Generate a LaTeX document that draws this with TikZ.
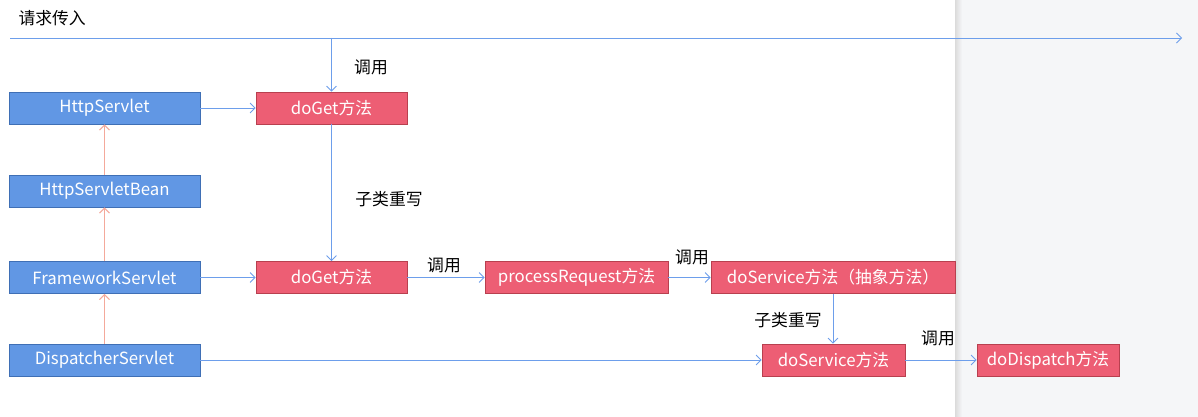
\documentclass[tikz,border=0pt]{standalone}
\usepackage{fontspec}
\setmainfont{Noto Sans CJK SC}
\usetikzlibrary{arrows.meta}
\definecolor{boxblue}{HTML}{6197E4}
\definecolor{boxblueline}{HTML}{3F6FB5}
\definecolor{boxred}{HTML}{ED5E74}
\definecolor{boxredline}{HTML}{B8404F}
\definecolor{flowblue}{HTML}{6D9EEB}
\definecolor{inherit}{HTML}{F4A99B}
\definecolor{pagegray}{HTML}{F5F6F8}

\begin{document}
\begin{tikzpicture}[x=1pt,y=-1pt,font=\fontsize{16.8}{20}\selectfont,
						classbox/.style={rectangle,draw=boxblueline,fill=boxblue,text=white,minimum width=191pt,minimum height=32pt,inner sep=0pt,line width=0.8pt},
						methodbox/.style={rectangle,draw=boxredline,fill=boxred,text=white,minimum height=32pt,inner sep=0pt,line width=0.8pt},
						flow/.style={draw=flowblue,line width=0.8pt,-{Straight Barb[length=5pt,width=10pt]}},
						extends/.style={draw=inherit,line width=1pt,-{Straight Barb[length=5pt,width=10pt]}},
						tag/.style={text=black}
						]
						\useasboundingbox (0,0) rectangle (1198,417);
						\fill[white] (0,0) rectangle (955,417);
						\fill[pagegray] (955,0) rectangle (1198,417);
						\shade[left color=black!14,right color=pagegray] (955,0) rectangle (962,417);
						% class hierarchy
						\node[classbox] (hs) at (104.5,108) {HttpServlet};
						\node[classbox] (hsb) at (104.5,191) {HttpServletBean};
						\node[classbox] (fs) at (104.5,277.5) {FrameworkServlet};
						\node[classbox] (ds) at (104.5,360) {DispatcherServlet};
						% methods
						\node[methodbox,minimum width=151pt] (get1) at (331.5,108) {doGet方法};
						\node[methodbox,minimum width=151pt] (get2) at (331.5,277.5) {doGet方法};
						\node[methodbox,minimum width=183pt] (proc) at (576.5,277.5) {processRequest方法};
						\node[methodbox,minimum width=244pt] (svcA) at (833,277.5) {doService方法（抽象方法）};
						\node[methodbox,minimum width=143pt] (svc) at (833.5,360) {doService方法};
						\node[methodbox,minimum width=142pt] (disp) at (1048,360) {doDispatch方法};
						% request line
						\node[tag,anchor=west] (req) at (15,18) {请求传入};
						\coordinate (in) at (10,38);
						\coordinate (out) at (1182,38);
						\draw[flow] (in) -- (out);
						\draw[flow] (get1.north |- in) -- (get1.north);
						\node[tag] (call1) at (371,67) {调用};
						\draw[flow] (get1) -- (get2);
						\node[tag] (sub1) at (389,199) {子类重写};
						\draw[flow] (hs) -- (get1);
						\draw[flow] (fs) -- (get2);
						\draw[flow] (ds) -- (svc);
						\draw[flow] (get2) -- (proc);
						\node[tag] (call2) at (444,265) {调用};
						\draw[flow] (proc) -- (svcA);
						\node[tag] (call3) at (692,257) {调用};
						\draw[flow] (svcA) -- (svcA.south |- svc.north);
						\node[tag] (sub2) at (788,320) {子类重写};
						\draw[flow] (svc) -- (disp);
						\node[tag] (call4) at (938,338) {调用};
						% inheritance
						\draw[extends] (ds) -- (fs);
						\draw[extends] (fs) -- (hsb);
						\draw[extends] (hsb) -- (hs);
						\end{tikzpicture}
\end{document}
